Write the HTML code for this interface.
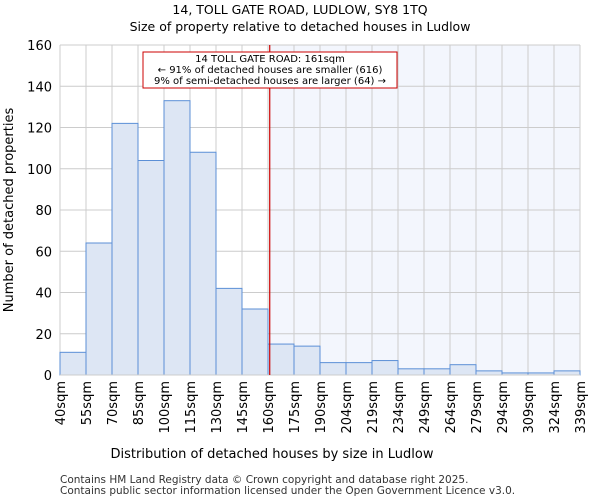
<!DOCTYPE html>
<html><head><meta charset="utf-8"><style>
body{margin:0;background:#fff;font-family:"DejaVu Sans","Liberation Sans",sans-serif}
</style></head><body>
<svg id="c" width="600" height="500" xmlns="http://www.w3.org/2000/svg" font-family="DejaVu Sans, Liberation Sans, sans-serif">
<text x="300" y="14" text-anchor="middle" font-size="12.5">14, TOLL GATE ROAD, LUDLOW, SY8 1TQ</text>
<text x="300" y="31" text-anchor="middle" font-size="12.5">Size of property relative to detached houses in Ludlow</text>
<g id="grid"></g>
<g id="bars"></g>
<g id="axes"></g>
<text x="272" y="458" text-anchor="middle" font-size="13">Distribution of detached houses by size in Ludlow</text>
<text transform="translate(13,210) rotate(-90)" text-anchor="middle" font-size="13">Number of detached properties</text>
<text x="60" y="483" font-size="10.5" fill="#333">Contains HM Land Registry data © Crown copyright and database right 2025.</text>
<text x="60" y="494" font-size="10.5" fill="#333">Contains public sector information licensed under the Open Government Licence v3.0.</text>
</svg>
<script>
const labels=["40sqm","55sqm","70sqm","85sqm","100sqm","115sqm","130sqm","145sqm","160sqm","175sqm","190sqm","204sqm","219sqm","234sqm","249sqm","264sqm","279sqm","294sqm","309sqm","324sqm","339sqm"];
const counts=[11,64,122,104,133,108,42,32,15,14,6,6,7,3,3,5,2,1,1,2];
const yTicks=[0,20,40,60,80,100,120,140,160];
const subjectSize=161;
const edges=[40,55,70,85,100,115,130,145,160,175,190,204,219,234,249,264,279,294,309,324,339];
const X0=60,X1=580,Y0=375,Y1=45,NS="http://www.w3.org/2000/svg";
const bw=(X1-X0)/counts.length;
const x=i=>X0+i*bw;
const y=v=>Y0-(v/160)*(Y0-Y1);
function sizeX(s){for(let i=0;i<edges.length-1;i++){if(s>=edges[i]&&s<=edges[i+1])return x(i)+(s-edges[i])/(edges[i+1]-edges[i])*bw;}return X1;}
function mk(t,a,p){const e=document.createElementNS(NS,t);for(const k in a)e.setAttribute(k,a[k]);p.appendChild(e);return e;}
const grid=document.getElementById('grid'),bars=document.getElementById('bars'),axes=document.getElementById('axes');
const lx=sizeX(subjectSize);
let sh=mk('rect',{x:lx,y:Y1,width:X1-lx,height:Y0-Y1,fill:'#f3f6fd'},grid);


yTicks.forEach(t=>{
 mk('line',{x1:X0,x2:X1,y1:y(t),y2:y(t),stroke:'#ccc'},grid);
 let tx=mk('text',{x:X0-8,y:y(t)+5,'text-anchor':'end','font-size':13},axes);tx.textContent=t;
 
 
});
labels.forEach((l,i)=>{
 mk('line',{x1:x(i),x2:x(i),y1:Y1,y2:Y0,stroke:'#ccc'},grid);
 let tx=mk('text',{transform:`translate(${x(i)+5},${Y0+6}) rotate(-90)`,'text-anchor':'end','font-size':13},axes);tx.textContent=l;
 
 
});
counts.forEach((c,i)=>{
 let r=mk('rect',{x:x(i),y:y(c),width:bw,height:Y0-y(c),fill:'#dde6f4',stroke:'#5b8fd6','stroke-width':1},bars);
 
 
});
mk('line',{x1:X0,x2:X1,y1:Y0,y2:Y0,stroke:'#ccc'},axes);
let rl=mk('line',{x1:lx,x2:lx,y1:Y1,y2:Y0,stroke:'#cc0000','stroke-width':1.2},axes);


let g=mk('g',{},axes);


mk('rect',{x:143,y:52,width:254,height:36,fill:'#fff',stroke:'#cc0000'},g);
[["14 TOLL GATE ROAD: 161sqm",62],["← 91% of detached houses are smaller (616)",73],["9% of semi-detached houses are larger (64) →",84]].forEach(a=>{let t=mk('text',{x:270,y:a[1],'text-anchor':'middle','font-size':10},g);t.textContent=a[0];});
</script>
</body></html>
